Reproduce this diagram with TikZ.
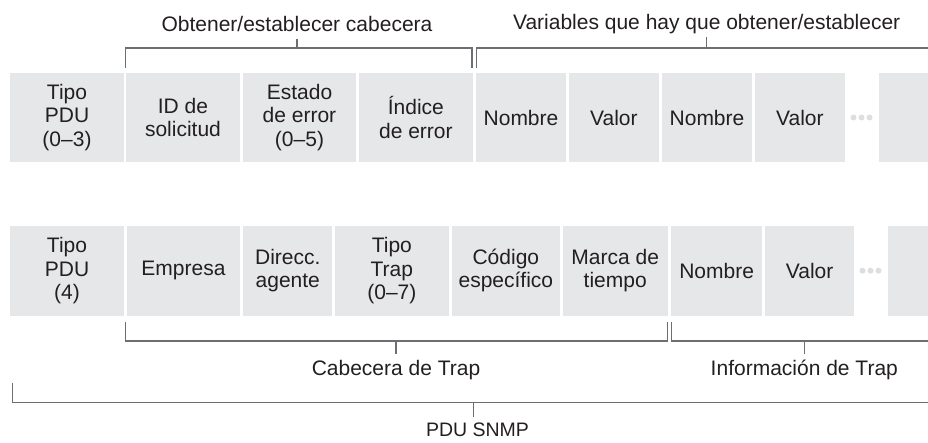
\documentclass[tikz,border=0pt]{standalone}
\usepackage{fontspec}
\setmainfont{Liberation Sans}
\begin{document}
\begin{tikzpicture}[x=1pt,y=-1pt,
  fld/.style={fill=boxgray,draw=none,inner sep=0pt,align=center,text=txt,
    font=\fontsize{21}{23.4}\selectfont},
  brk/.style={draw=lngray,line width=1.3pt},
  lbl/.style={text=txt,inner sep=0pt,anchor=base,font=\fontsize{21}{23.4}\selectfont},
  dotc/.style={fill=dotgray,draw=none}]
\definecolor{boxgray}{HTML}{E6E7E8}
\definecolor{dotgray}{HTML}{DDDEE0}
\definecolor{lngray}{HTML}{6D6E71}
\definecolor{txt}{HTML}{231F20}
\useasboundingbox (0,0) rectangle (928,442);
% top row
\def\fieldT#1#2#3#4{\node[fld,minimum width=#3-#2,minimum height=89] (#1) at ({(#2+#3)/2},117.5) {#4};}
\fieldT{t1}{10}{124}{Tipo\\PDU\\(0--3)}
\fieldT{t2}{126}{240}{ID de\\solicitud}
\fieldT{t3}{243}{356}{Estado\\de error\\(0--5)}
\fieldT{t4}{359}{472.7}{Índice\\de error}
\fieldT{t5}{476}{566}{Nombre}
\fieldT{t6}{568.7}{659}{Valor}
\fieldT{t7}{661.7}{752.3}{Nombre}
\fieldT{t8}{754.7}{845}{Valor}
\fieldT{t9}{878.7}{928}{}
\foreach \x in {853.5,861.5,869.5} \fill[dotc] (\x,117.5) circle (3);
% bottom row
\def\fieldB#1#2#3#4{\node[fld,minimum width=#3-#2,minimum height=90] (#1) at ({(#2+#3)/2},270.7) {#4};}
\fieldB{b1}{10}{124}{Tipo\\PDU\\(4)}
\fieldB{b2}{126.7}{240.3}{Empresa}
\fieldB{b3}{243.3}{332.3}{Direcc.\\agente}
\fieldB{b4}{335}{448.7}{Tipo\\Trap\\(0--7)}
\fieldB{b5}{451.7}{560}{Código\\específico}
\fieldB{b6}{562.7}{667.7}{Marca de\\tiempo}
\fieldB{b7}{671}{762.3}{Nombre}
\fieldB{b8}{765.3}{854}{Valor}
\fieldB{b9}{887.7}{928}{}
\foreach \x in {862.5,870.5,878.5} \fill[dotc] (\x,270.7) circle (3);
% top brackets
\coordinate (h1a) at (125.3,68); \coordinate (h1b) at (472,68);
\draw[brk] (h1a) |- (297,48) -| (h1b);
\draw[brk] (297,48) -- (297,39);
\node[lbl] (lh) at (297,31) {Obtener/establecer cabecera};
\coordinate (v1a) at (476.3,68); \coordinate (v1b) at (928,48);
\draw[brk] (v1a) |- (v1b);
\draw[brk] (706.7,48) -- (706.7,37);
\node[lbl] (lv) at (706.7,29) {Variables que hay que obtener/establecer};
% bottom brackets
\coordinate (c1a) at (125.3,322); \coordinate (c1b) at (667.7,322);
\draw[brk] (c1a) |- (396,341) -| (c1b);
\draw[brk] (396,341) -- (396,354);
\node[lbl] (lc) at (396,375.7) {Cabecera de Trap};
\coordinate (i1a) at (671.7,322); \coordinate (i1b) at (928,341);
\draw[brk] (i1a) |- (i1b);
\draw[brk] (804.3,341) -- (804.3,354);
\node[lbl] (li) at (804.3,375.7) {Información de Trap};
\coordinate (p1a) at (12.7,383); \coordinate (p1b) at (928,402.7);
\draw[brk] (p1a) |- (p1b);
\draw[brk] (473.3,402.7) -- (473.3,416.7);
\node[lbl,font=\fontsize{19.5}{22}\selectfont] (lp) at (477.5,436.5) {PDU SNMP};
\end{tikzpicture}
\end{document}
